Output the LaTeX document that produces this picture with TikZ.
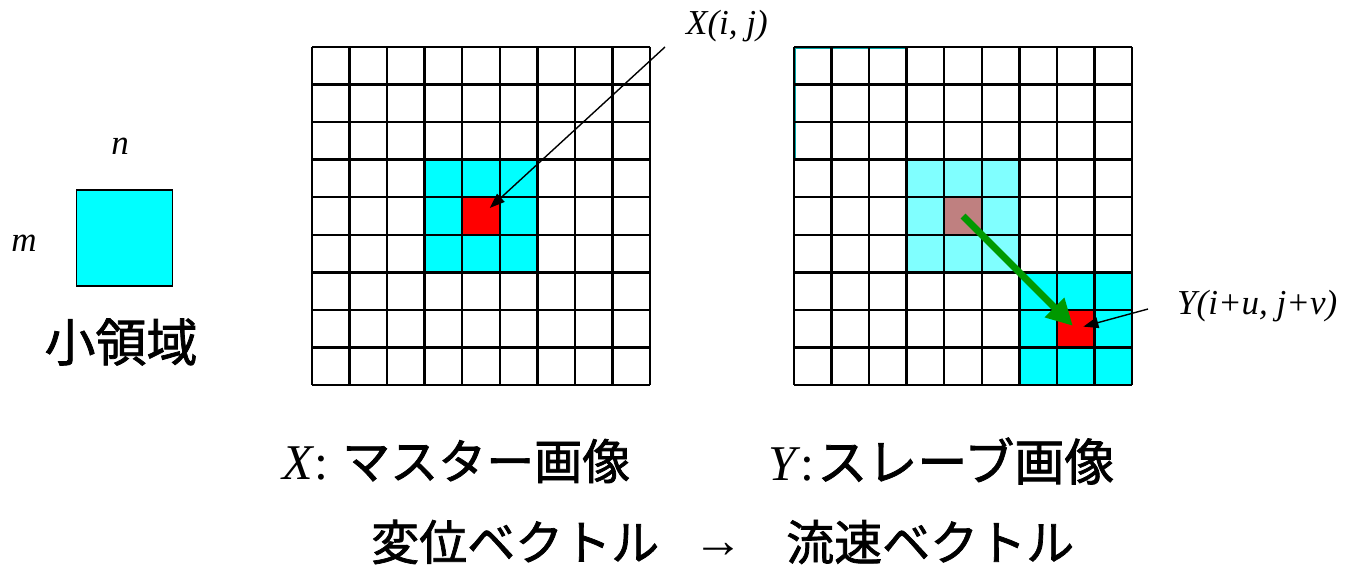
\documentclass[tikz,border=0pt]{standalone}
\usepackage{fontspec}
\setmainfont{Liberation Serif}
\newfontfamily\jpfont[FakeBold=1.5]{Noto Sans CJK JP}
\usetikzlibrary{arrows.meta}
\definecolor{blockcyan}{HTML}{00FFFF}
\definecolor{paleblock}{HTML}{80FFFF}
\definecolor{pixelred}{HTML}{FF0000}
\definecolor{oldpixel}{HTML}{BF8080}
\definecolor{flowgreen}{HTML}{009900}
\definecolor{edgeteal}{HTML}{00A8A8}
\newcommand{\cellsize}{37.56}

\begin{document}
\begin{tikzpicture}[
  x=1pt,
  y=-1pt,
  line join=miter,
  gridline/.style={draw=black,line width=2.4pt},
  pointer/.style={draw=black,line width=1.4pt,-{Triangle[length=15pt,width=11pt]}},
  flow/.style={draw=flowgreen,line width=7pt,-{Triangle[length=26pt,width=26pt]}},
  varlabel/.style={inner sep=0pt,font=\fontsize{35}{35}\selectfont\itshape},
  caption/.style={inner sep=0pt,font=\fontsize{48}{48}\selectfont\jpfont}
]
  \useasboundingbox (0,0) rectangle (1349,569);

  % Small window m x n on the left.
  \node[draw=black,line width=1.5pt,fill=blockcyan,minimum size=96pt,inner sep=0pt]
    (window) at (124.5,238) {};
  \node[varlabel,anchor=base] (nlabel) at (120,155) {n};
  \node[varlabel,anchor=base] (mlabel) at (24,252) {m};
  \node[caption,font=\fontsize{51}{51}\selectfont\jpfont] (windowname) at (121,342) {小領域};

  % Master image X: window centred on pixel (i,j).
  \begin{scope}[shift={(312,47)}]
    \fill[blockcyan] (3*\cellsize,3*\cellsize) rectangle (6*\cellsize,6*\cellsize);
    \fill[pixelred] (4*\cellsize,4*\cellsize) rectangle (5*\cellsize,5*\cellsize);
    \foreach \k in {0,...,9} {
      \draw[gridline] (\k*\cellsize,0) -- (\k*\cellsize,9*\cellsize);
      \draw[gridline] (0,\k*\cellsize) -- (9*\cellsize,\k*\cellsize);
    }
    \coordinate (xpix) at (4.5*\cellsize,4.5*\cellsize);
  \end{scope}

  % Slave image Y: old window shaded, matched window shifted by (u,v).
  \begin{scope}[shift={(794,47)}]
    % faint trace of a window in the corner
    \draw[edgeteal,line width=1pt] (3*\cellsize-2,1.8) -- (1.8,1.8) -- (1.8,3*\cellsize-2);
    \fill[paleblock] (3*\cellsize,3*\cellsize) rectangle (6*\cellsize,6*\cellsize);
    \fill[oldpixel] (4*\cellsize,4*\cellsize) rectangle (5*\cellsize,5*\cellsize);
    \fill[blockcyan] (6*\cellsize,6*\cellsize) rectangle (9*\cellsize,9*\cellsize);
    \fill[pixelred] (7*\cellsize,7*\cellsize) rectangle (8*\cellsize,8*\cellsize);
    \foreach \k in {0,...,9} {
      \draw[gridline] (\k*\cellsize,0) -- (\k*\cellsize,9*\cellsize);
      \draw[gridline] (0,\k*\cellsize) -- (9*\cellsize,\k*\cellsize);
    }
    \coordinate (ypixold) at (4.5*\cellsize,4.5*\cellsize);
    \coordinate (ypix) at (7.5*\cellsize,7.5*\cellsize);
  \end{scope}

  % Pixel labels with their pointers.
  \node[varlabel,anchor=base west] (xname) at (686,35) {X(i, j)};
  \node[varlabel,anchor=base west] (yname) at (1177,315) {Y(i+u, j+v)};
  \coordinate (xtail) at (665,47);
  \coordinate (ytail) at (1148,309);
  \draw[pointer,shorten >=12pt] (xtail) -- (xpix);
  \draw[pointer,shorten >=8pt] (ytail) -- (ypix);

  % Displacement vector.
  \draw[flow,shorten >=4pt] (ypixold) -- (ypix);

  % Captions.
  \node[caption,anchor=west] (xcap) at (282,461)
    {{\rmfamily\fontsize{50}{50}\selectfont\textit{X}:}\hspace{14pt}マスター画像};
  \node[caption,anchor=west,font=\fontsize{50}{50}\selectfont\jpfont] (ycap) at (768,461)
    {{\rmfamily\fontsize{50}{50}\selectfont\textit{Y}:}\hspace{3pt}スレーブ画像};
  \node[caption,anchor=west] (dispcap) at (371,542) {変位ベクトル};
  \node[inner sep=0pt,font=\fontsize{50}{50}\selectfont\rmfamily] (becomes) at (718.5,550) {→};
  \node[caption,anchor=west] (flowcap) at (786,542) {流速ベクトル};
\end{tikzpicture}
\end{document}
